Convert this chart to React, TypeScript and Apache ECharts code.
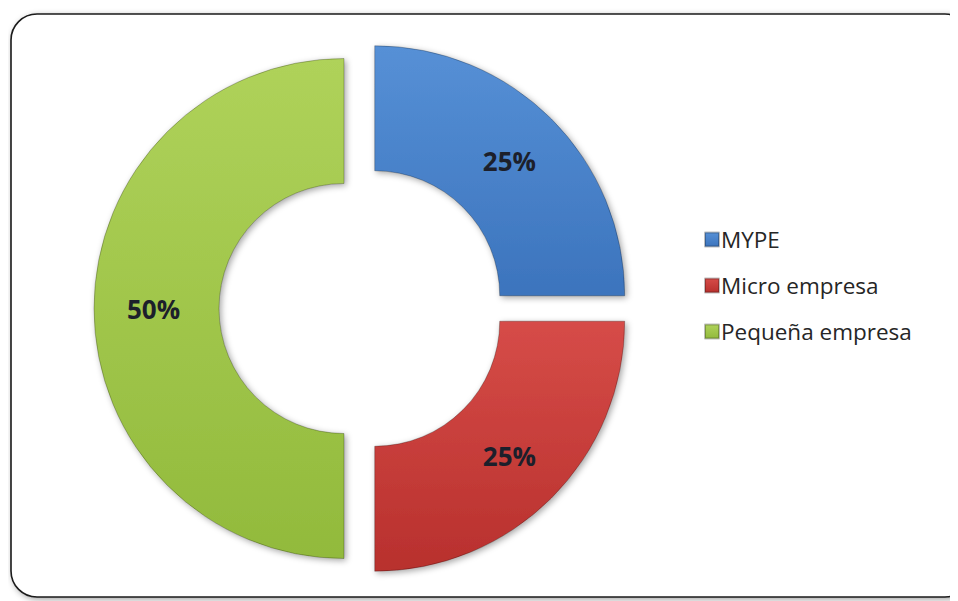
import React, { useEffect, useRef } from "react";
import * as echarts from "echarts";

const categories = ["MYPE", "Micro empresa", "Pequeña empresa"];
const values = [25, 25, 50];
const colors = [
  ["#5690d6", "#3c74bd"],
  ["#d64c48", "#b8302d"],
  ["#afd25a", "#92ba3c"],
];

export default function App() {
  const ref = useRef<HTMLDivElement>(null);
  useEffect(() => {
    const chart = echarts.init(ref.current!, null, { renderer: "svg" });
    const grad = (c: string[]) =>
      new echarts.graphic.LinearGradient(0, 0, 0, 1, [
        { offset: 0, color: c[0] },
        { offset: 1, color: c[1] },
      ]);
    chart.setOption({
      animation: false,
      backgroundColor: "#ffffff",
      graphic: [
        {
          type: "rect",
          shape: { x: 3, y: 6, width: 960, height: 583, r: 26 },
          style: {
            fill: "#ffffff",
            stroke: "#1a1a1a",
            lineWidth: 1.6,
            shadowBlur: 6,
            shadowColor: "rgba(0,0,0,0.35)",
            shadowOffsetX: 2,
            shadowOffsetY: 2,
          },
          z: -10,
        },
      ],
      legend: {
        orient: "vertical",
        left: 691,
        top: 215,
        itemGap: 23,
        itemWidth: 14,
        itemHeight: 14,
        icon: "rect",
        textStyle: {
          fontFamily: "'Open Sans', 'Noto Sans', sans-serif",
          fontSize: 22.5,
          color: "#262626",
          padding: [0, 0, 0, -3],
        },
        data: categories.map((name, i) => ({
          name,
          itemStyle: { color: grad(colors[i]) },
        })),
      },
      series: [
        {
          type: "pie",
          center: [354, 300.5],
          radius: [125, 250],
          startAngle: 90,
          clockwise: true,
          selectedMode: "multiple",
          selectedOffset: 18,
          select: { disabled: false },
          emphasis: { disabled: true },
          label: {
            show: true,
            position: "inside",
            formatter: "{d}%",
            fontFamily: "'Open Sans', 'Noto Sans', sans-serif",
            fontWeight: "bold",
            fontSize: 26,
            color: "#1c1f2b",
          },
          labelLine: { show: false },
          itemStyle: {
            borderColor: "rgba(0,0,0,0.25)",
            borderWidth: 1,
            shadowBlur: 6,
            shadowColor: "rgba(0,0,0,0.35)",
            shadowOffsetX: 2,
            shadowOffsetY: 2,
          },
          data: categories.map((name, i) => ({
            name,
            value: values[i],
            selected: true,
            itemStyle: { color: grad(colors[i]) },
            select: { itemStyle: { color: grad(colors[i]) } },
          })),
        },
      ],
    });
    return () => chart.dispose();
  }, []);
  return <div ref={ref} style={{ width: 950, height: 593 }} />;
}
